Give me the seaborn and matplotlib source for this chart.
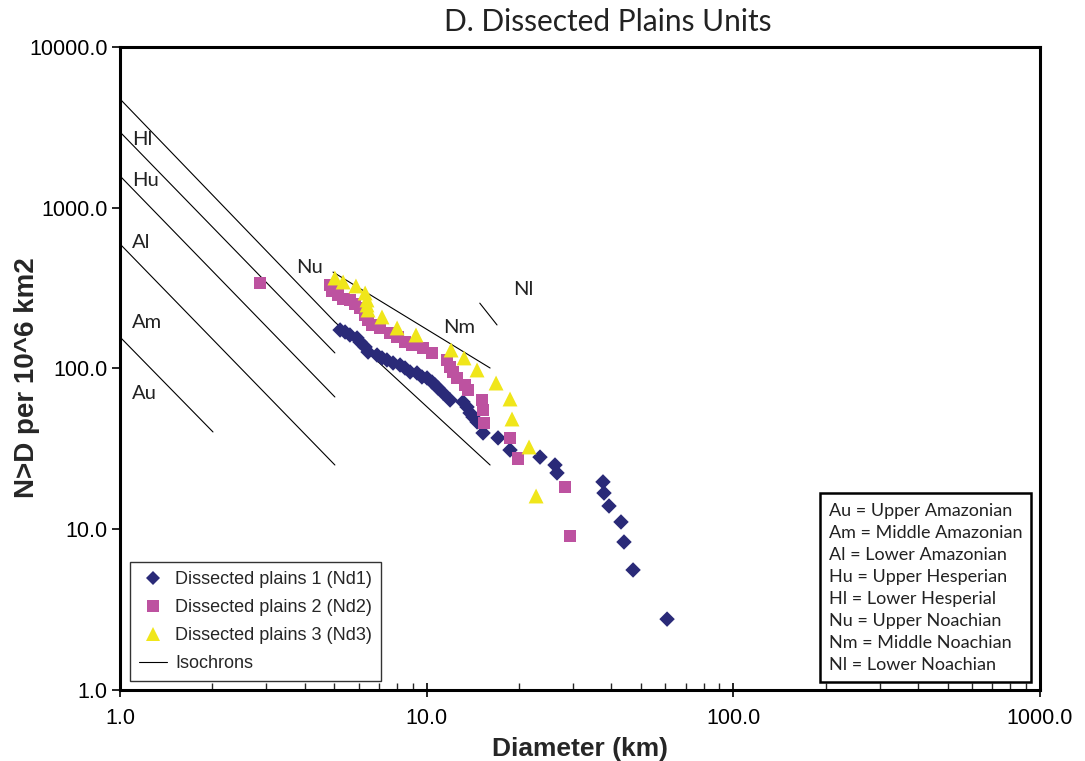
import numpy as np
import pandas as pd
import matplotlib
matplotlib.use("Agg")
import matplotlib.pyplot as plt
from matplotlib.lines import Line2D
from matplotlib.ticker import LogLocator, FuncFormatter, NullFormatter, FixedLocator
import seaborn as sns

# Cumulative crater counts: diameter (km) vs N>D per 10^6 km2
nd1_diameter = [5.22, 5.42, 5.62, 5.93, 6.06, 6.30, 6.44, 6.89, 7.15, 7.42, 7.77, 8.19,
                8.50, 8.83, 9.30, 9.65, 10.03, 10.41, 10.65, 10.89, 11.31, 11.92, 13.14,
                13.54, 13.85, 14.16, 14.60, 15.27, 17.09, 18.70, 23.42, 26.21, 26.61,
                37.58, 37.87, 39.32, 43.02, 44.0, 47.1, 60.8]
nd1_density = [173.6, 168.7, 161.6, 154.8, 146.2, 136.1, 126.6, 121.3, 116.3, 113.0, 108.2,
               105.1, 100.7, 95.1, 93.8, 88.6, 87.3, 82.4, 79.0, 75.6, 70.4, 63.7, 61.9,
               57.6, 52.9, 49.9, 46.5, 39.7, 37.0, 31.1, 28.1, 25.1, 22.4, 19.7, 16.8,
               13.95, 11.1, 8.33, 5.58, 2.76]

nd2_diameter = [2.86, 4.84, 4.91, 5.14, 5.34, 5.62, 5.84, 6.06, 6.30, 6.44, 6.63, 7.04,
                7.60, 8.01, 8.50, 8.96, 9.73, 10.41, 11.65, 11.92, 12.19, 12.56, 13.34,
                13.64, 15.15, 15.27, 15.38, 18.70, 19.86, 28.26, 29.34]
nd2_density = [340.0, 330.8, 303.5, 286.7, 270.6, 266.8, 251.9, 237.9, 215.2, 200.4, 186.6,
               178.7, 166.3, 157.0, 146.2, 140.0, 134.2, 124.9, 113.0, 102.2, 95.1, 87.3,
               79.0, 73.5, 63.7, 55.2, 45.8, 37.0, 27.4, 18.3, 9.08]

nd3_diameter = [5.02, 5.34, 5.88, 6.30, 6.39, 6.39, 6.44, 7.15, 8.01, 9.23, 12.01, 13.24,
                14.60, 16.84, 18.70, 18.98, 21.57, 22.74]
nd3_density = [365.6, 345.2, 326.1, 294.9, 266.8, 248.4, 231.2, 209.2, 178.7, 161.6, 130.3,
               116.3, 97.9, 81.2, 64.6, 48.5, 32.5, 16.1]

# Isochron segments (diameter, density)
iso_hl_d, iso_hl_n = [1.0, 5.02, 16.1], [4750, 194.7, 25.1]
iso_hu_d, iso_hu_n = [1.0, 5.02], [2960, 125]
iso_al_d, iso_al_n = [1.0, 5.02], [1577, 66.5]
iso_am_d, iso_am_n = [1.0, 5.02], [595, 25.1]
iso_au_d, iso_au_n = [1.0, 2.01], [157, 40.3]
iso_nu_d, iso_nu_n = [4.95, 16.1], [398, 100.7]
iso_nl_d, iso_nl_n = [14.9, 16.96], [255, 186.6]

unit_labels = ["Hl", "Hu", "Al", "Am", "Au", "Nu", "Nm", "Nl"]
unit_label_d = [1.094, 1.094, 1.094, 1.094, 1.094, 3.75, 11.3, 19.1]
unit_label_n = [2640, 1488, 604, 192, 70.4, 422, 178.7, 308]

series_names = ["Dissected plains 1 (Nd1)", "Dissected plains 2 (Nd2)", "Dissected plains 3 (Nd3)"]
key_lines = ["Au = Upper Amazonian", "Am = Middle Amazonian", "Al = Lower Amazonian",
             "Hu = Upper Hesperian", "Hl = Lower Hesperial", "Nu = Upper Noachian",
             "Nm = Middle Noachian", "Nl = Lower Noachian"]

sns.set_style("ticks")
plt.rcParams["font.family"] = ["Liberation Sans", "DejaVu Sans"]

colors = ["#2a2a78", "#bd52a0", "#f0e61a"]
markers = ["D", "s", "^"]
sizes = [62, 85, 115]

fig = plt.figure(figsize=(10.85, 7.61), dpi=100)
ax = fig.add_axes([120 / 1085, 71 / 761, 920 / 1085, 643 / 761])

# Isochrons
for d, n in [(iso_hl_d, iso_hl_n), (iso_hu_d, iso_hu_n), (iso_al_d, iso_al_n),
             (iso_am_d, iso_am_n), (iso_au_d, iso_au_n), (iso_nu_d, iso_nu_n),
             (iso_nl_d, iso_nl_n)]:
    ax.plot(d, n, color="black", lw=0.8, zorder=1)

frames = [
    pd.DataFrame({"diameter": nd1_diameter, "density": nd1_density}),
    pd.DataFrame({"diameter": nd2_diameter, "density": nd2_density}),
    pd.DataFrame({"diameter": nd3_diameter, "density": nd3_density}),
]
for df, c, m, s in zip(frames, colors, markers, sizes):
    sns.scatterplot(data=df, x="diameter", y="density", ax=ax, color=c, marker=m,
                    s=s, edgecolor="none", linewidth=0, zorder=3, legend=False)

ax.set_xscale("log")
ax.set_yscale("log")
ax.set_xlim(1, 1000)
ax.set_ylim(1, 10000)

fmt = FuncFormatter(lambda v, p: f"{v:.1f}")
ax.xaxis.set_major_locator(FixedLocator([1, 10, 100, 1000]))
ax.xaxis.set_major_formatter(fmt)
ax.xaxis.set_minor_locator(LogLocator(base=10, subs=np.arange(2, 10), numticks=20))
ax.xaxis.set_minor_formatter(NullFormatter())
ax.yaxis.set_major_locator(FixedLocator([1, 10, 100, 1000, 10000]))
ax.yaxis.set_major_formatter(fmt)
ax.yaxis.set_minor_locator(FixedLocator([]))

ax.tick_params(axis="x", which="major", direction="inout", length=10, width=1.2,
               labelsize=15.5, pad=8, colors="black")
ax.tick_params(axis="x", which="minor", direction="in", length=5, width=1.0)
ax.tick_params(axis="y", which="major", direction="out", length=6, width=1.2,
               labelsize=15.5, pad=3, colors="black")
for sp in ax.spines.values():
    sp.set_linewidth(2.2)
    sp.set_color("black")
    sp.set_visible(True)

ax.set_xlabel("Diameter (km)", fontsize=19, fontweight="bold", labelpad=6)
ax.set_ylabel("N>D per 10^6 km2", fontsize=20, fontweight="bold")
ax.yaxis.set_label_coords(-0.087, 0.486)

for lab, d, n in zip(unit_labels, unit_label_d, unit_label_n):
    ax.text(d, n, lab, fontsize=14.5, family=["Lato", "DejaVu Sans"], color="#222222",
            ha="left", va="center")

fig.text(0.560, 0.971, "D. Dissected Plains Units", fontsize=21.5,
         family=["Lato", "DejaVu Sans"], ha="center", va="center", color="#222222")

handles = [Line2D([], [], ls="none", marker=m, color=c, markersize=ms, markeredgewidth=0)
           for m, c, ms in zip(markers, colors, [7, 8.5, 9.5])]
handles.append(Line2D([], [], color="black", lw=0.8))
leg = ax.legend(handles, series_names + ["Isochrons"], loc="lower left",
                bbox_to_anchor=(0.011, 0.014), borderaxespad=0, fontsize=13,
                frameon=True, fancybox=False, edgecolor="black", handlelength=1.55,
                handletextpad=0.45, labelspacing=0.6, borderpad=0.5)
leg.get_frame().set_linewidth(1.0)

ax.text(0.7705, 0.026, "\n".join(key_lines), transform=ax.transAxes, fontsize=13,
        family=["Lato", "DejaVu Sans"], ha="left", va="bottom", linespacing=1.47,
        color="#222222",
        bbox=dict(boxstyle="square,pad=0.5", facecolor="white", edgecolor="black",
                  linewidth=1.8))

fig.savefig("out.png", dpi=100)
